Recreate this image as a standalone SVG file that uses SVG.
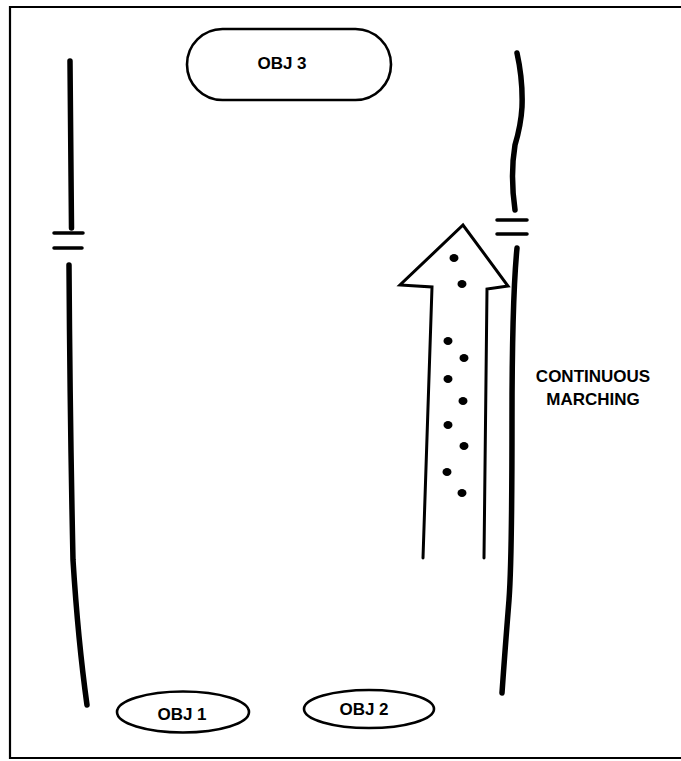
<svg xmlns="http://www.w3.org/2000/svg" width="681" height="761" viewBox="0 0 681 761">
<style>
.frame{fill:none;stroke:#000;stroke-width:2.2}
.wall{fill:none;stroke:#000;stroke-width:5.5;stroke-linecap:round;stroke-linejoin:round}
.brk{fill:none;stroke:#000;stroke-width:3.5;stroke-linecap:round}
.obj{fill:#fff;stroke:#000;stroke-width:2.6}
.arrow{fill:none;stroke:#000;stroke-width:3;stroke-linejoin:miter;stroke-linecap:round}
.lbl{font-family:"Liberation Sans",Arial,sans-serif;font-weight:bold;font-size:17px;fill:#000;text-anchor:middle}
.dot{fill:#000}
</style>
<rect width="681" height="761" fill="#fff"/>
<path class="frame" d="M683 7 H10 V758 H683"/>
<g id="left-boundary">
<path class="wall" d="M70 61 Q71 150 71.5 228"/>
<path class="brk" d="M54 233 H83 M54 248 H82"/>
<path class="wall" d="M69 265 Q70 420 73 560 Q78 640 87 705"/>
</g>
<g id="right-boundary">
<path class="wall" d="M517 53 Q523 80 522 107 Q521 125 515 145 Q510 175 515 210"/>
<path class="brk" d="M497 220 H527 M497 234 H527"/>
<path class="wall" d="M517 248 Q512 300 512 420 Q512 560 509 600 Q505 650 502 693"/>
</g>
<g id="obj3">
<rect class="obj" x="187" y="29" width="204" height="71" rx="35.5"/>
<text class="lbl" x="282" y="69">OBJ 3</text>
</g>
<g id="obj1">
<ellipse class="obj" cx="183" cy="712" rx="66" ry="20.5"/>
<text class="lbl" x="182" y="720">OBJ 1</text>
</g>
<g id="obj2">
<ellipse class="obj" cx="369" cy="709" rx="65" ry="19"/>
<text class="lbl" x="364" y="715">OBJ 2</text>
</g>
<g id="connectors">
<g id="marching-arrow">
<path class="arrow" d="M423 558 L432 287 L400 285 L463 225 L508 286 L487 289 L484 558"/>
<ellipse class="dot" cx="454" cy="258" rx="4.5" ry="4"/>
<ellipse class="dot" cx="462" cy="284" rx="4.5" ry="4"/>
<ellipse class="dot" cx="448" cy="341" rx="4.5" ry="4"/>
<ellipse class="dot" cx="464" cy="358" rx="4.5" ry="4"/>
<ellipse class="dot" cx="448" cy="379" rx="4.5" ry="4"/>
<ellipse class="dot" cx="463" cy="401" rx="4.5" ry="4"/>
<ellipse class="dot" cx="448" cy="425" rx="4.5" ry="4"/>
<ellipse class="dot" cx="464" cy="446" rx="4.5" ry="4"/>
<ellipse class="dot" cx="447" cy="472" rx="4.5" ry="4"/>
<ellipse class="dot" cx="462" cy="493" rx="4.5" ry="4"/>
</g>
</g>
<g id="label-continuous-marching">
<text class="lbl" x="593" y="382">CONTINUOUS</text>
<text class="lbl" x="593" y="405">MARCHING</text>
</g>
</svg>
